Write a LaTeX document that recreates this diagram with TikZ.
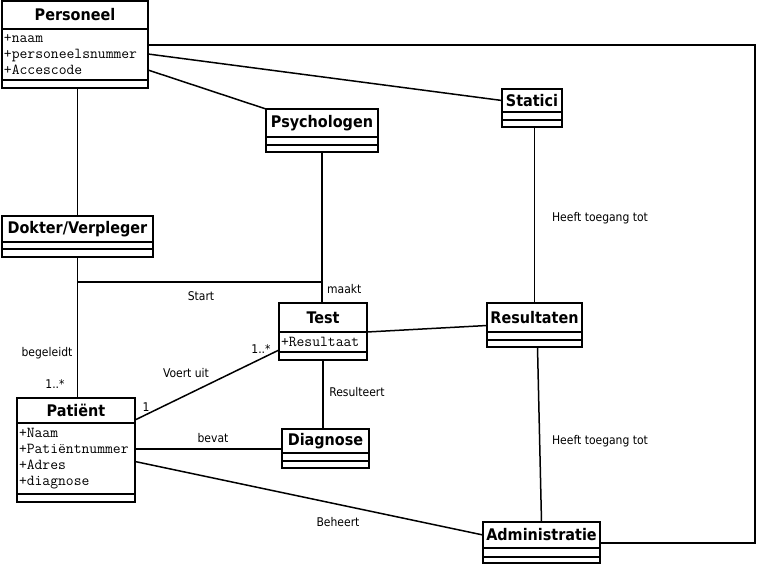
\documentclass[tikz,border=0pt]{standalone}
\usepackage{fontspec}
\newfontfamily\umlsans{DejaVu Sans Condensed}
\usetikzlibrary{positioning}
\tikzset{
    %Define style for class name boxes
    classname/.style={
           rectangle,
           draw=black, line width=1.5pt,
           anchor=north west,
           inner sep=0pt, outer sep=0pt,
           font=\umlsans\bfseries\fontsize{16pt}{19pt}\selectfont,
           text centered},
    %Define style for attribute boxes
    attribs/.style={
           rectangle,
           draw=black, line width=1.5pt,
           inner xsep=2pt, inner ysep=0pt, outer sep=0pt,
           align=left,
           font=\ttfamily\fontsize{15.2pt}{16pt}\selectfont},
    %Define style for empty compartments
    opers/.style={
           rectangle,
           draw=black, line width=1.5pt,
           inner sep=0pt, outer sep=0pt,
           minimum height=8pt},
    % Define style for association labels
    assoc/.style={
           font=\umlsans\fontsize{12pt}{14pt}\selectfont,
           inner sep=0pt},
    % Define line style
    link/.style={
           line width=1.5pt}
}

\begin{document}
\begin{tikzpicture}[x=1pt,y=-1pt]
\useasboundingbox (0,0) rectangle (757,567);
% classes
\node[classname, minimum width=146pt, minimum height=28pt] (persT) at (2,1) {Personeel};
\node[attribs, below=0pt of persT, text width=142pt, minimum height=51pt] (persA) {+naam\\+personeelsnummer\\+Accescode};
\node[opers, below=0pt of persA, minimum width=146pt] (persM) {};

\node[classname, minimum width=112pt, minimum height=28pt] (psyT) at (266,109) {Psychologen};
\node[opers, below=0pt of psyT, minimum width=112pt] (psyA) {};
\node[opers, below=0pt of psyA, minimum width=112pt, minimum height=7pt] (psyM) {};

\node[classname, minimum width=60pt, minimum height=23pt] (statT) at (502,89) {Statici};
\node[opers, below=0pt of statT, minimum width=60pt] (statA) {};
\node[opers, below=0pt of statA, minimum width=60pt, minimum height=7pt] (statM) {};

\node[classname, minimum width=151pt, minimum height=26pt] (dokT) at (2,216) {Dokter/Verpleger};
\node[opers, below=0pt of dokT, minimum width=151pt, minimum height=7pt] (dokA) {};
\node[opers, below=0pt of dokA, minimum width=151pt] (dokM) {};

\node[classname, minimum width=88pt, minimum height=29pt] (testT) at (279,303) {Test};
\node[attribs, below=0pt of testT, text width=84pt, minimum height=20pt] (testA) {+Resultaat};
\node[opers, below=0pt of testA, minimum width=88pt] (testM) {};

\node[classname, minimum width=118pt, minimum height=25pt] (patT) at (17,398) {Patiënt};
\node[attribs, below=0pt of patT, text width=114pt, minimum height=71pt] (patA) {+Naam\\+Patiëntnummer\\+Adres\\+diagnose};
\node[opers, below=0pt of patA, minimum width=118pt] (patM) {};

\node[classname, minimum width=87pt, minimum height=24pt] (diagT) at (282,429) {Diagnose};
\node[opers, below=0pt of diagT, minimum width=87pt] (diagA) {};
\node[opers, below=0pt of diagA, minimum width=87pt, minimum height=7pt] (diagM) {};

\node[classname, minimum width=95pt, minimum height=29pt] (resT) at (487,303) {Resultaten};
\node[opers, below=0pt of resT, minimum width=95pt] (resA) {};
\node[opers, below=0pt of resA, minimum width=95pt, minimum height=7pt] (resM) {};

\node[classname, minimum width=117pt, minimum height=26pt] (admT) at (483,522) {Administratie};
\node[opers, below=0pt of admT, minimum width=117pt, minimum height=9pt] (admA) {};
\node[opers, below=0pt of admA, minimum width=117pt, minimum height=6pt] (admM) {};

% associations
\coordinate (startY) at (0,282);
\coordinate (rim) at (755,300);
\draw[link] (dokT.north) -- (dokT.north |- persM.south);
\draw[link] ([yshift=-41pt]persA.north east) -- (psyT.north west);
\draw[link] ([yshift=-25pt]persA.north east) -- (statT.west);
\draw[link] ([yshift=-16pt]persA.north east) -| (rim) |- ([yshift=-8pt]admT.east);
\draw[link] (psyM.south) -- (psyM.south |- testT.north);
\draw[link] (dokM.south) -- (dokM.south |- patT.north);
\draw[link] (dokM.south |- startY) -- (psyM.south |- startY);
\draw[link] (resT.north) -- (resT.north |- statM.south);
\draw[link] (testT.south east) -- ([yshift=-8pt]resT.west);
\draw[link] (testM.south) -- (testM.south |- diagT.north);
\draw[link] ([yshift=3pt]patT.south east) -- ([yshift=2pt]testA.south west);
\draw[link] ([yshift=-8pt]diagT.west) -- ([yshift=-8pt]diagT.west -| patA.east);
\draw[link] ([yshift=-3pt]patA.east) -- (admT.west);
\draw[link] ([xshift=3pt]resM.south) -- (admT.north);

% labels
\node[assoc, anchor=west] (lmaakt) at (327,289) {maakt};
\node[assoc] (lstart) at (201,296) {Start};
\node[assoc] (lbeg) at (47,353) {begeleidt};
\node[assoc] (lmultA) at (55,384) {1..*};
\node[assoc] (lone) at (146,407) {1};
\node[assoc] (lmultB) at (261,349) {1..*};
\node[assoc] (lvoert) at (186,373) {Voert uit};
\node[assoc] (lresult) at (357,392) {Resulteert};
\node[assoc] (lbevat) at (213,438) {bevat};
\node[assoc] (lbeheert) at (338,522) {Beheert};
\node[assoc] (ltoegA) at (600,218) {Heeft toegang tot};
\node[assoc] (ltoegB) at (600,441) {Heeft toegang tot};
\end{tikzpicture}
\end{document}
